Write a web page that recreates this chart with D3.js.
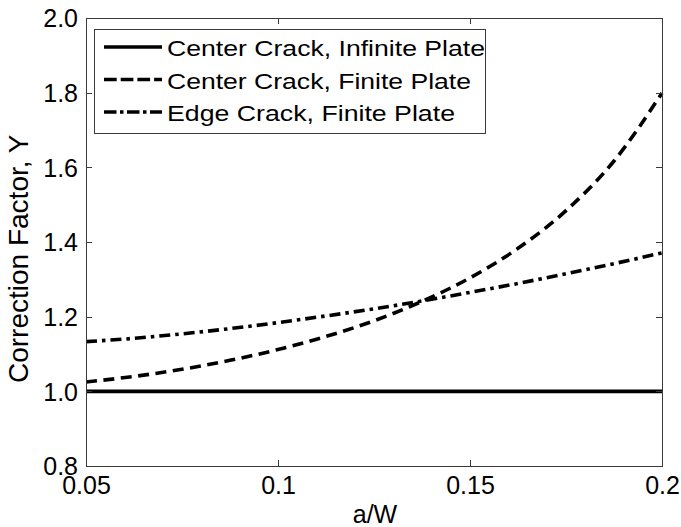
<!DOCTYPE html>
<html>
<head>
<meta charset="utf-8">
<script src="https://cdn.jsdelivr.net/npm/d3@7"></script>
<style>
  html, body { margin: 0; padding: 0; background: #fff; }
  svg { display: block; }
  text { font-family: "Liberation Sans", Arial, Helvetica, sans-serif; fill: #000; }
</style>
</head>
<body>
<svg id="chart" width="681" height="527"></svg>
<script>
// ---- data ----
const aW = [0.05, 0.0625, 0.075, 0.0875, 0.1, 0.1125, 0.125, 0.1375, 0.15, 0.1625, 0.175, 0.1875, 0.2];
const centerInfinite = [1.0, 1.0, 1.0, 1.0, 1.0, 1.0, 1.0, 1.0, 1.0, 1.0, 1.0, 1.0, 1.0];
const centerFinite = [1.025, 1.040, 1.059, 1.083, 1.112, 1.147, 1.189, 1.241, 1.304, 1.383, 1.484, 1.617, 1.799];
const edgeFinite = [1.133, 1.142, 1.154, 1.168, 1.184, 1.202, 1.221, 1.242, 1.265, 1.289, 1.315, 1.342, 1.371];
const seriesNames = ["Center Crack, Infinite Plate", "Center Crack, Finite Plate", "Edge Crack, Finite Plate"];
const xTicks = [0.05, 0.1, 0.15, 0.2];
const xTickLabels = ["0.05", "0.1", "0.15", "0.2"];
const yTicks = [0.8, 1.0, 1.2, 1.4, 1.6, 1.8, 2.0];
const yTickLabels = ["0.8", "1.0", "1.2", "1.4", "1.6", "1.8", "2.0"];
const xLabel = "a/W";
const yLabel = "Correction Factor, Y";

// ---- layout ----
const L = 86, R = 662, T = 18, B = 466;
const svg = d3.select("#chart");
const x = d3.scaleLinear().domain([0.05, 0.2]).range([L, R]);
const y = d3.scaleLinear().domain([0.8, 2.0]).range([B, T]);

const series = [
  { name: seriesNames[0], values: centerInfinite, dash: null, legDash: null },
  { name: seriesNames[1], values: centerFinite, dash: "11,6.5", legDash: "12.7,4" },
  { name: seriesNames[2], values: edgeFinite, dash: "11,5,3.5,5", legDash: "12.5,3.5,3.5,3.5" }
];

const clip = svg.append("defs").append("clipPath").attr("id", "plotclip")
  .append("rect").attr("x", L).attr("y", T - 2).attr("width", R - L + 2).attr("height", B - T + 4);

const line = d3.line().x(d => x(d[0])).y(d => y(d[1])).curve(d3.curveMonotoneX);

const gLines = svg.append("g").attr("clip-path", "url(#plotclip)");
series.forEach(s => {
  gLines.append("path")
    .datum(aW.map((v, i) => [v, s.values[i]]))
    .attr("d", line)
    .attr("fill", "none")
    .attr("stroke", "#000")
    .attr("stroke-width", 3.6)
    .attr("stroke-linecap", "butt")
    .attr("stroke-dasharray", s.dash);
});

// ---- axes box ----
const axisColor = "#3a3a3a";
svg.append("rect").attr("x", L + 0.5).attr("y", T + 0.5).attr("width", R - L).attr("height", B - T)
  .attr("fill", "none").attr("stroke", axisColor).attr("stroke-width", 1);

const tickLen = 6;
// bottom & top ticks
const axB = d3.axisBottom(x).tickValues(xTicks).tickSize(0).tickFormat((d, i) => xTickLabels[i]);
const axT = d3.axisTop(x).tickValues(xTicks).tickSize(0).tickFormat("");
const axL = d3.axisLeft(y).tickValues(yTicks).tickSize(0).tickFormat((d, i) => yTickLabels[i]);
const axR = d3.axisRight(y).tickValues(yTicks).tickSize(0).tickFormat("");

// inner tick marks
const ticks = svg.append("g").attr("stroke", axisColor).attr("stroke-width", 1);
xTicks.forEach(v => {
  const px = Math.round(x(v)) + 0.5;
  ticks.append("line").attr("x1", px).attr("x2", px).attr("y1", B).attr("y2", B - tickLen);
  ticks.append("line").attr("x1", px).attr("x2", px).attr("y1", T).attr("y2", T + tickLen);
});
yTicks.forEach(v => {
  const py = Math.round(y(v)) + 0.5;
  ticks.append("line").attr("x1", L).attr("x2", L + tickLen).attr("y1", py).attr("y2", py);
  ticks.append("line").attr("x1", R).attr("x2", R - tickLen).attr("y1", py).attr("y2", py);
});

// tick labels via d3 axes
const gB = svg.append("g").attr("transform", `translate(0,${B})`).call(axB);
gB.select(".domain").remove();
gB.selectAll("text").attr("font-size", 25).attr("dy", null).attr("y", 28)
  .style("font-family", '"Liberation Sans", Arial, sans-serif').attr("fill", "#000");

const gL = svg.append("g").attr("transform", `translate(${L},0)`).call(axL);
gL.select(".domain").remove();
gL.selectAll("text").attr("font-size", 25).attr("x", -8).attr("dy", "0.35em")
  .style("font-family", '"Liberation Sans", Arial, sans-serif').attr("fill", "#000");

// ---- axis labels ----
svg.append("text").attr("x", (L + R) / 2 + 1).attr("y", 523).attr("text-anchor", "middle")
  .attr("font-size", 25).text(xLabel);
svg.append("text").attr("transform", `translate(28,383) rotate(-90)`).attr("text-anchor", "start")
  .attr("font-size", 28).text(yLabel);

// ---- legend ----
const legX = 94, legY = 29, legW = 391, legH = 104;
const leg = svg.append("g");
leg.append("rect").attr("x", legX + 0.5).attr("y", legY + 0.5).attr("width", legW).attr("height", legH)
  .attr("fill", "#fff").attr("stroke", axisColor).attr("stroke-width", 1);
const rowY = [47, 79.5, 112];
const textLens = [318, 304, 288];
series.forEach((s, i) => {
  leg.append("line").attr("x1", 104).attr("x2", 162).attr("y1", rowY[i]).attr("y2", rowY[i])
    .attr("stroke", "#000").attr("stroke-width", 3.6).attr("stroke-dasharray", s.legDash);
  leg.append("text").attr("x", 167).attr("y", rowY[i] + 9).attr("font-size", 22)
    .attr("textLength", textLens[i]).attr("lengthAdjust", "spacingAndGlyphs").text(s.name);
});
</script>
</body>
</html>
